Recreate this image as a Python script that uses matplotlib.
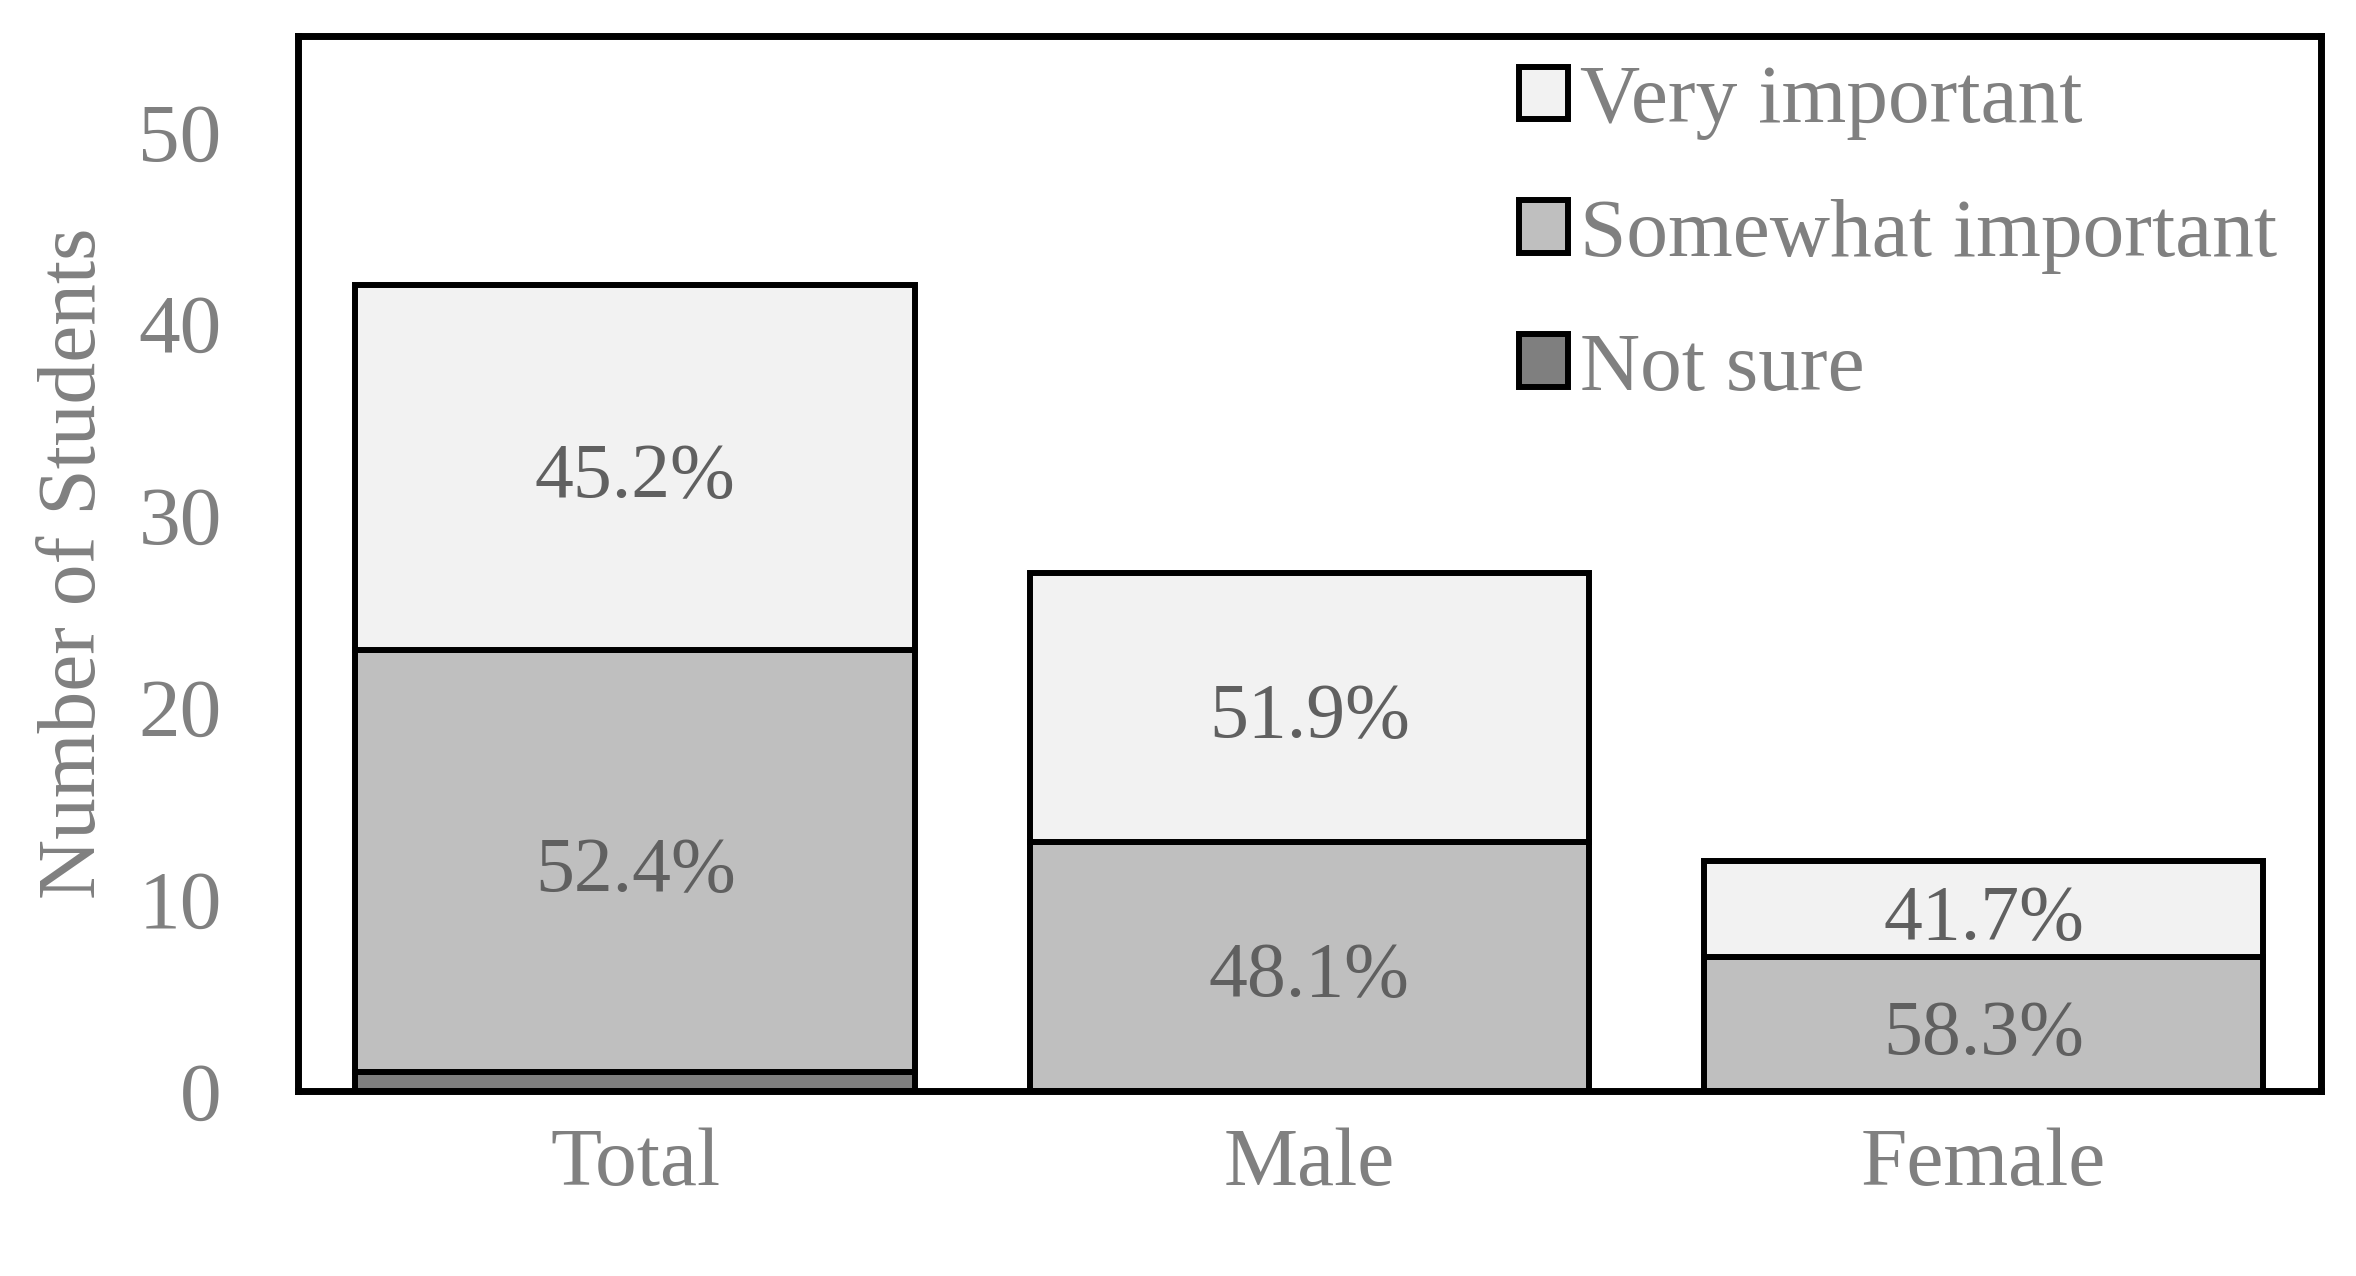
import matplotlib.pyplot as plt

groups = ["Total", "Male", "Female"]
not_sure = [1, 0, 0]
somewhat = [22, 13, 7]
very = [19, 14, 5]

txt_grey = "#808080"
lbl_grey = "#606060"

plt.rcParams["font.family"] = ["Liberation Serif", "DejaVu Serif"]

fig = plt.figure(figsize=(23.56, 12.76), dpi=100)
ax = fig.add_axes([0.1265, 0.145, 0.8585, 0.827])

x = range(len(groups))
w = 0.83
lw = 4.3
bottom2 = [a + b for a, b in zip(not_sure, somewhat)]
totals = [a + b + c for a, b, c in zip(not_sure, somewhat, very)]

ax.bar(x, not_sure, w, color="#7f7f7f", edgecolor="black", linewidth=lw, label="Not sure")
ax.bar(x, somewhat, w, bottom=not_sure, color="#bfbfbf", edgecolor="black", linewidth=lw,
       label="Somewhat important")
ax.bar(x, very, w, bottom=bottom2, color="#f2f2f2", edgecolor="black", linewidth=lw,
       label="Very important")

# percentage labels (share of each group's total)
for i in x:
    t = totals[i]
    ax.annotate(f"{somewhat[i] / t * 100:.1f}%", (i, not_sure[i] + somewhat[i] / 2),
                xytext=(0, -8), textcoords="offset points",
                ha="center", va="center", fontsize=56, color=lbl_grey)
    ax.annotate(f"{very[i] / t * 100:.1f}%", (i, bottom2[i] + very[i] / 2),
                xytext=(0, -8), textcoords="offset points",
                ha="center", va="center", fontsize=56, color=lbl_grey)

ax.set_xlim(-0.5, 2.5)
ax.set_ylim(0, 55)
ax.set_yticks([0, 10, 20, 30, 40, 50])
ax.set_xticks(list(x))
ax.set_xticklabels(groups)
ax.tick_params(length=0, labelsize=60, labelcolor=txt_grey)
ax.tick_params(axis="y", pad=55)
ax.tick_params(axis="x", pad=26)
for s in ax.spines.values():
    s.set_linewidth(5)
ax.set_ylabel("Number of Students", fontsize=60, color=txt_grey, labelpad=18)

h, l = ax.get_legend_handles_labels()
leg = ax.legend(h[::-1], l[::-1], loc="upper left", bbox_to_anchor=(0.587, 1.004), frameon=False,
                fontsize=60, labelcolor=txt_grey, handlelength=0.59, handleheight=0.6,
                handletextpad=0.15, labelspacing=0.7, borderaxespad=0)
for p in leg.get_patches():
    p.set_linewidth(4.3)

fig.savefig("out.png", dpi=100)
